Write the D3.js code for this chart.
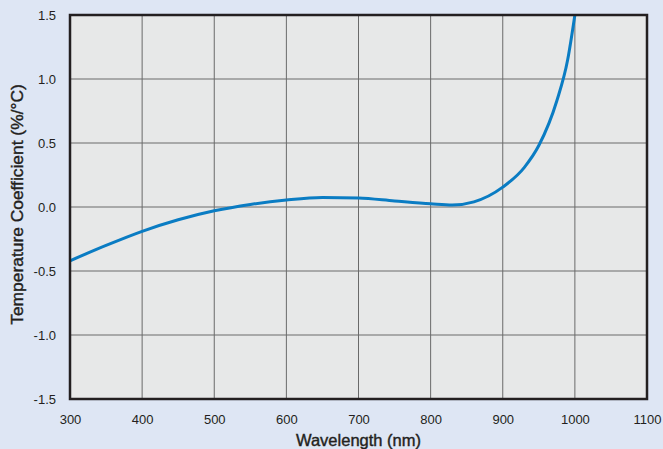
<!DOCTYPE html>
<html>
<head>
<meta charset="utf-8">
<script src="https://cdn.jsdelivr.net/npm/d3@7"></script>
<style>
  body { margin: 0; background: #dee6f4; }
  svg { display: block; font-family: "Liberation Sans", Arial, sans-serif; }
</style>
</head>
<body>
<svg id="chart" width="663" height="449"></svg>
<script>
// wavelength (nm) vs temperature coefficient (%/°C)
const wavelengths = [300, 350, 400, 450, 500, 550, 600, 650, 700, 750, 800, 830, 860, 900, 930, 950, 975, 990, 1000];
const coefficients = [-0.42, -0.30, -0.19, -0.10, -0.03, 0.02, 0.055, 0.075, 0.07, 0.047, 0.025, 0.015, 0.04, 0.155, 0.31, 0.48, 0.83, 1.15, 1.5];
const xTicks = [300, 400, 500, 600, 700, 800, 900, 1000, 1100];
const yTicks = [-1.5, -1.0, -0.5, 0.0, 0.5, 1.0, 1.5];

const margin = { left: 70, top: 15, right: 16, bottom: 50 };
const width = 663, height = 449;

const svg = d3.select('#chart');

const x = d3.scaleLinear()
  .domain([300, 1100])
  .range([margin.left, width - margin.right]);

const y = d3.scaleLinear()
  .domain([-1.5, 1.5])
  .range([height - margin.bottom, margin.top]);

// plot background
svg.append('rect')
  .attr('x', x(300))
  .attr('y', y(1.5))
  .attr('width', x(1100) - x(300))
  .attr('height', y(-1.5) - y(1.5))
  .style('fill', '#e7e8e8');

// grid
svg.append('g')
  .selectAll('line')
  .data(xTicks)
  .enter()
    .append('line')
    .attr('x1', d => x(d))
    .attr('x2', d => x(d))
    .attr('y1', y(1.5))
    .attr('y2', y(-1.5))
    .style('stroke', '#6a6a6a')
    .style('stroke-width', 1);

svg.append('g')
  .selectAll('line')
  .data(yTicks)
  .enter()
    .append('line')
    .attr('x1', x(300))
    .attr('x2', x(1100))
    .attr('y1', d => y(d))
    .attr('y2', d => y(d))
    .style('stroke', '#6a6a6a')
    .style('stroke-width', 1);

// curve
const line = d3.line()
  .x((d, i) => x(wavelengths[i]))
  .y(d => y(d))
  .curve(d3.curveMonotoneX);

svg.append('path')
  .datum(coefficients)
  .attr('d', line)
  .style('fill', 'none')
  .style('stroke', '#0a7cc3')
  .style('stroke-width', 3);

// frame
svg.append('rect')
  .attr('x', x(300))
  .attr('y', y(1.5))
  .attr('width', x(1100) - x(300))
  .attr('height', y(-1.5) - y(1.5))
  .style('fill', 'none')
  .style('stroke', '#231f20')
  .style('stroke-width', 2.5);

// axes
const xAxis = svg.append('g')
  .attr('transform', `translate(0,${y(-1.5)})`)
  .call(d3.axisBottom(x).tickValues(xTicks).tickSize(0).tickPadding(16).tickFormat(d3.format('d')));

const yAxis = svg.append('g')
  .attr('transform', `translate(${x(300)},0)`)
  .call(d3.axisLeft(y).tickValues(yTicks).tickSize(0).tickPadding(14).tickFormat(d3.format('.1f')));

[xAxis, yAxis].forEach(g => {
  g.select('.domain').remove();
  g.selectAll('text')
    .style('font-family', '"Liberation Sans", Arial, sans-serif')
    .style('font-size', '13px')
    .style('fill', '#231f20');
});

yAxis.selectAll('text').text(d => d3.format('.1f')(d).replace('−', '-'));

// titles (medium weight: regular face with a thin stroke)
svg.append('text')
  .attr('x', (x(300) + x(1100)) / 2)
  .attr('y', 446)
  .attr('text-anchor', 'middle')
  .style('font-size', '16.5px')
  .style('fill', '#231f20')
  .style('stroke', '#231f20')
  .style('stroke-width', 0.4)
  .text('Wavelength (nm)');

svg.append('text')
  .attr('transform', `translate(22.5,204.5) rotate(-90)`)
  .attr('text-anchor', 'middle')
  .style('font-size', '17.4px')
  .style('fill', '#231f20')
  .style('stroke', '#231f20')
  .style('stroke-width', 0.4)
  .text('Temperature Coefficient (%/°C)');
</script>
</body>
</html>
